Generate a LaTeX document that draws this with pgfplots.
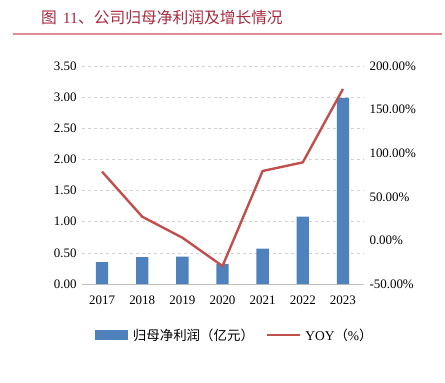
\documentclass[border=0pt]{standalone}
\usepackage{pgfplots}
\pgfplotsset{compat=1.18}
\usepackage{fontspec}
\setmainfont{Liberation Serif}
\newfontfamily\cjk{Noto Sans CJK SC}
\definecolor{barblue}{HTML}{4F81BD}
\definecolor{linered}{HTML}{C0504D}
\definecolor{titlered}{HTML}{A52A3F}
\definecolor{rulered}{HTML}{DE8D96}
\begin{document}
\begin{tikzpicture}[x=1bp,y=1bp]
\useasboundingbox (0,0) rectangle (445,382);
\node[anchor=west,text=titlered,font=\fontsize{15.8}{18}\selectfont,inner sep=0] at (41,364) {{\cjk 图}\hspace{6bp}11{\cjk 、公司归母净利润及增长情况}};
\draw[rulered,line width=1.1bp] (13,348) -- (442,348);
\begin{axis}[
  at={(82bp,98bp)}, anchor=south west,
  scale only axis, width=281bp, height=218bp,
  xmin=-0.5, xmax=6.5, ymin=0, ymax=3.5,
  axis x line*=bottom, axis y line*=left,
  x axis line style={draw=black!25, line width=0.8bp},
  y axis line style={draw=none},
  major tick length=0pt,
  xtick={0,...,6}, xticklabels={2017,2018,2019,2020,2021,2022,2023},
  ytick={0,0.5,...,3.5},
  yticklabels={0.00,0.50,1.00,1.50,2.00,2.50,3.00,3.50},
  ymajorgrids, grid style={dashed, draw=black!18, line width=0.7bp},
  ticklabel style={font=\fontsize{13}{15}\selectfont},
  yticklabel style={xshift=-2bp},
  xticklabel style={yshift=-8bp},
]
\addplot[ybar, bar width=12.3bp, fill=barblue, draw=none] coordinates {
(0,0.35) (1,0.43) (2,0.44) (3,0.32) (4,0.57) (5,1.08) (6,2.99)};
\end{axis}
\begin{axis}[
  at={(82bp,98bp)}, anchor=south west,
  scale only axis, width=281bp, height=218bp,
  xmin=-0.5, xmax=6.5, ymin=-50, ymax=200,
  axis x line=none, axis y line*=right,
  y axis line style={draw=none},
  major tick length=0pt,
  ytick={-50,0,50,100,150,200},
  yticklabels={-50.00\%,0.00\%,50.00\%,100.00\%,150.00\%,200.00\%},
  ticklabel style={font=\fontsize{13}{15}\selectfont},
  yticklabel style={xshift=3bp},
  legend style={draw=none, at={(0.543,-0.234)}, anchor=center, legend columns=2,
    font=\fontsize{13.5}{16}\selectfont, inner sep=0pt,
    /tikz/every even column/.append style={column sep=10bp}},
  legend cell align=left,
]
\addlegendimage{legend image code/.code={\fill[barblue] (0bp,-4.5bp) rectangle (32bp,4.5bp);}}
\addlegendentry{\hspace{4bp}\cjk 归母净利润（亿元）}
\addlegendimage{legend image code/.code={\draw[linered,line width=2.4bp] (0bp,0bp) -- (33bp,0bp);}}
\addlegendentry{\hspace{2bp}YOY{\cjk （}\%{\cjk ）}}
\addplot[linered, line width=2.4bp, mark=none] coordinates {
(0,78.8) (1,27.2) (2,3.1) (3,-29.4) (4,79.6) (5,89.5) (6,173.6)};
\end{axis}
\end{tikzpicture}
\end{document}
